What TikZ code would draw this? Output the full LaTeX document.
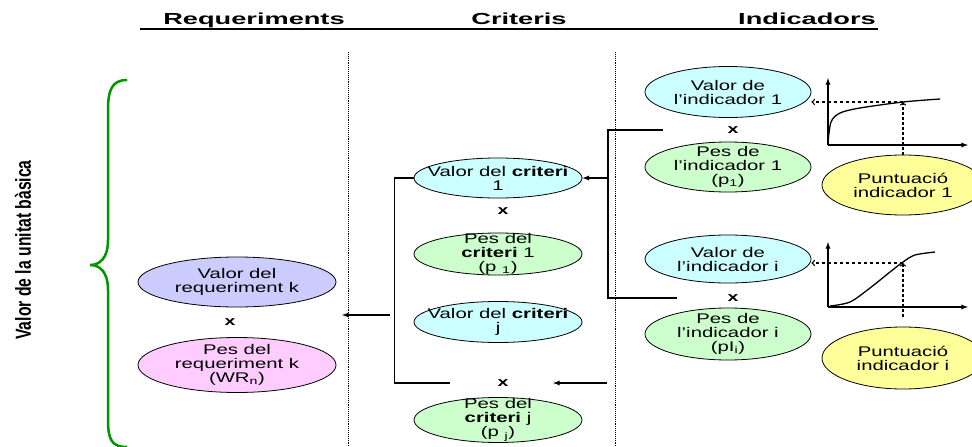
\documentclass[tikz,border=0pt]{standalone}
\usepackage{fontspec}
\setmainfont{Liberation Sans}
\usepackage{tikz}
\usetikzlibrary{shapes.geometric, positioning, arrows}

\definecolor{creq}{RGB}{204,204,255}
\definecolor{cpesreq}{RGB}{255,204,255}
\definecolor{cvalor}{RGB}{204,255,255}
\definecolor{cpes}{RGB}{204,255,204}
\definecolor{cpunt}{RGB}{255,255,153}
\definecolor{cbrace}{RGB}{0,150,0}

\begin{document}
\begin{tikzpicture}[x=1pt,y=-1pt]
	
	\tikzset{bubble/.style args={#1/#2/#3}{
			ellipse, draw, line width=0.8pt,
			fill=#1,
			minimum width=#2, minimum height=#3,
			inner sep=0pt
		},
		txt/.style={font=\fontsize{14}{14}\selectfont, align=center, xscale=1.45, inner sep=0pt},
		head/.style={font=\bfseries\fontsize{16}{16}\selectfont, xscale=1.7, inner sep=0pt, anchor=base},
		times/.style={font=\bfseries\fontsize{13}{13}\selectfont, xscale=1.5, inner sep=0pt},
		conn/.style={line width=1.3pt},
		arr/.style={conn, -latex},
		guide/.style={line width=1.3pt, ->},
		sep/.style={densely dotted, line width=0.9pt}
	}
	
	\useasboundingbox (0,0) rectangle (972,447);
	
	% titols
	\node[head] (hreq) at (254,24) {Requeriments};
	\node[head] (hcrit) at (519,24) {Criteris};
	\node[head] (hind) at (807,24) {Indicadors};
	\draw[line width=2pt] (140,28.5) -- (878,28.5);
	
	% separadors
	\coordinate (s1t) at (348,52);
	\coordinate (s1b) at (348,447);
	\coordinate (s2t) at (615,52);
	\coordinate (s2b) at (615,447);
	\draw[sep] (s1t) -- (s1b);
	\draw[sep] (s2t) -- (s2b);
	
	% clau
	\draw[cbrace, line width=2.5pt] (127,80) .. controls (112,80) and (108,90) .. (108,110) -- (108,240)
		.. controls (108,258) and (100,265) .. (90,265) .. controls (100,265) and (108,272) .. (108,290)
		-- (108,420) .. controls (108,440) and (112,447) .. (127,447);
	\node[font=\bfseries\fontsize{15}{15}\selectfont, rotate=90, inner sep=0pt] (unitat) at (23,250)
		{\scalebox{1.05}[1.45]{Valor de la unitat bàsica}};
	
	% requeriments
	\node[bubble=creq/198/50] (vreq) at (237,282) {};
	\node[txt] (tvreq) at (vreq) {Valor del\\requeriment k};
	\node[times] (xreq) at (230,322) {x};
	\node[bubble=cpesreq/198/55] (preq) at (237,365) {};
	\node[txt] (tpreq) at (preq) {Pes del\\requeriment k\\(WR\textsubscript{n})};
	
	% criteris
	\node[bubble=cvalor/168/40] (vc1) at (498,178) {};
	\node[txt] (tvc1) at (vc1) {Valor del \textbf{criteri}\\1};
	\node[times] (xc1) at (503,211) {x};
	\node[bubble=cpes/168/42] (pc1) at (498,254) {};
	\node[txt] (tpc1) at (pc1) {Pes del\\\textbf{criteri} 1\\(p \textsubscript{1})};
	\node[bubble=cvalor/168/41] (vcj) at (498,322) {};
	\node[txt] (tvcj) at (vcj) {Valor del \textbf{criteri}\\j};
	\node[times] (xcj) at (503,383) {x};
	\node[bubble=cpes/168/45] (pcj) at (498,420) {};
	\node[txt] (tpcj) at (pcj) {Pes del\\\textbf{criteri} j\\(p \textsubscript{j})};
	
	% indicadors
	\node[bubble=cvalor/166/51] (vi1) at (728,92) {};
	\node[txt] (tvi1) at (vi1) {Valor de\\l’indicador 1};
	\node[times] (xi1) at (733,130) {x};
	\node[bubble=cpes/166/50] (pi1) at (728,167) {};
	\node[txt] (tpi1) at (pi1) {Pes de\\l’indicador 1\\(p\textsubscript{1})};
	\node[bubble=cvalor/166/48] (vii) at (728,259) {};
	\node[txt] (tvii) at (vii) {Valor de\\l’indicador i};
	\node[times] (xii) at (733,298) {x};
	\node[bubble=cpes/166/52] (pii) at (728,334) {};
	\node[txt] (tpii) at (pii) {Pes de\\l’indicador i\\(pI\textsubscript{i})};
	\node[bubble=cpunt/162/60] (sc1) at (903,185) {};
	\node[txt] (tsc1) at (sc1) {Puntuació\\indicador 1};
	\node[bubble=cpunt/162/62] (sci) at (903,358) {};
	\node[txt] (tsci) at (sci) {Puntuació\\indicador i};
	
	% corbes
	\coordinate (o1) at (828,145);
	\coordinate (c1) at (903,102);
	\draw[arr] (o1) -- ++(0,-67);
	\draw[arr] (o1) -- ++(140,0);
	\draw[conn] plot[smooth] coordinates {(828,143) (831,122) (840,113) (860,108) (903,102) (940,99)};
	\draw[guide, dashed] (c1) -- (c1 -| vi1.east);
	\draw[guide, dash pattern=on 3pt off 2pt] (sc1.north) -- (c1);
	
	\coordinate (oi) at (828,307);
	\coordinate (ci) at (903,263);
	\coordinate (di) at (903,317);
	\draw[arr] (oi) -- ++(0,-65);
	\draw[arr] (oi) -- ++(140,0);
	\draw[conn] plot[smooth] coordinates {(830,306) (850,302) (870,288) (890,272) (903,262) (915,255) (935,252)};
	\draw[guide, dashed] (ci) -- (ci -| vii.east);
	\draw[guide, dash pattern=on 3pt off 2pt] (di) -- (ci);
	
	% connexions
	\draw[conn] ([xshift=-70pt]xi1.center) -| ([xshift=-125pt]xii.center) -- ([xshift=-56pt]xii.center);
	\draw[arr] ([xshift=26pt]vc1.east) -- (vc1.east);
	\draw[arr] ([xshift=104pt]xcj.center) -- ([xshift=50pt]xcj.center);
	\draw[conn] (vc1.west) -- ++(-19,0) |- ([xshift=-53pt]xcj.center);
	\coordinate (inc) at (390,315);
	\coordinate (outc) at (342,315);
	\draw[arr] (inc) -- (outc);
	
\end{tikzpicture}
\end{document}
